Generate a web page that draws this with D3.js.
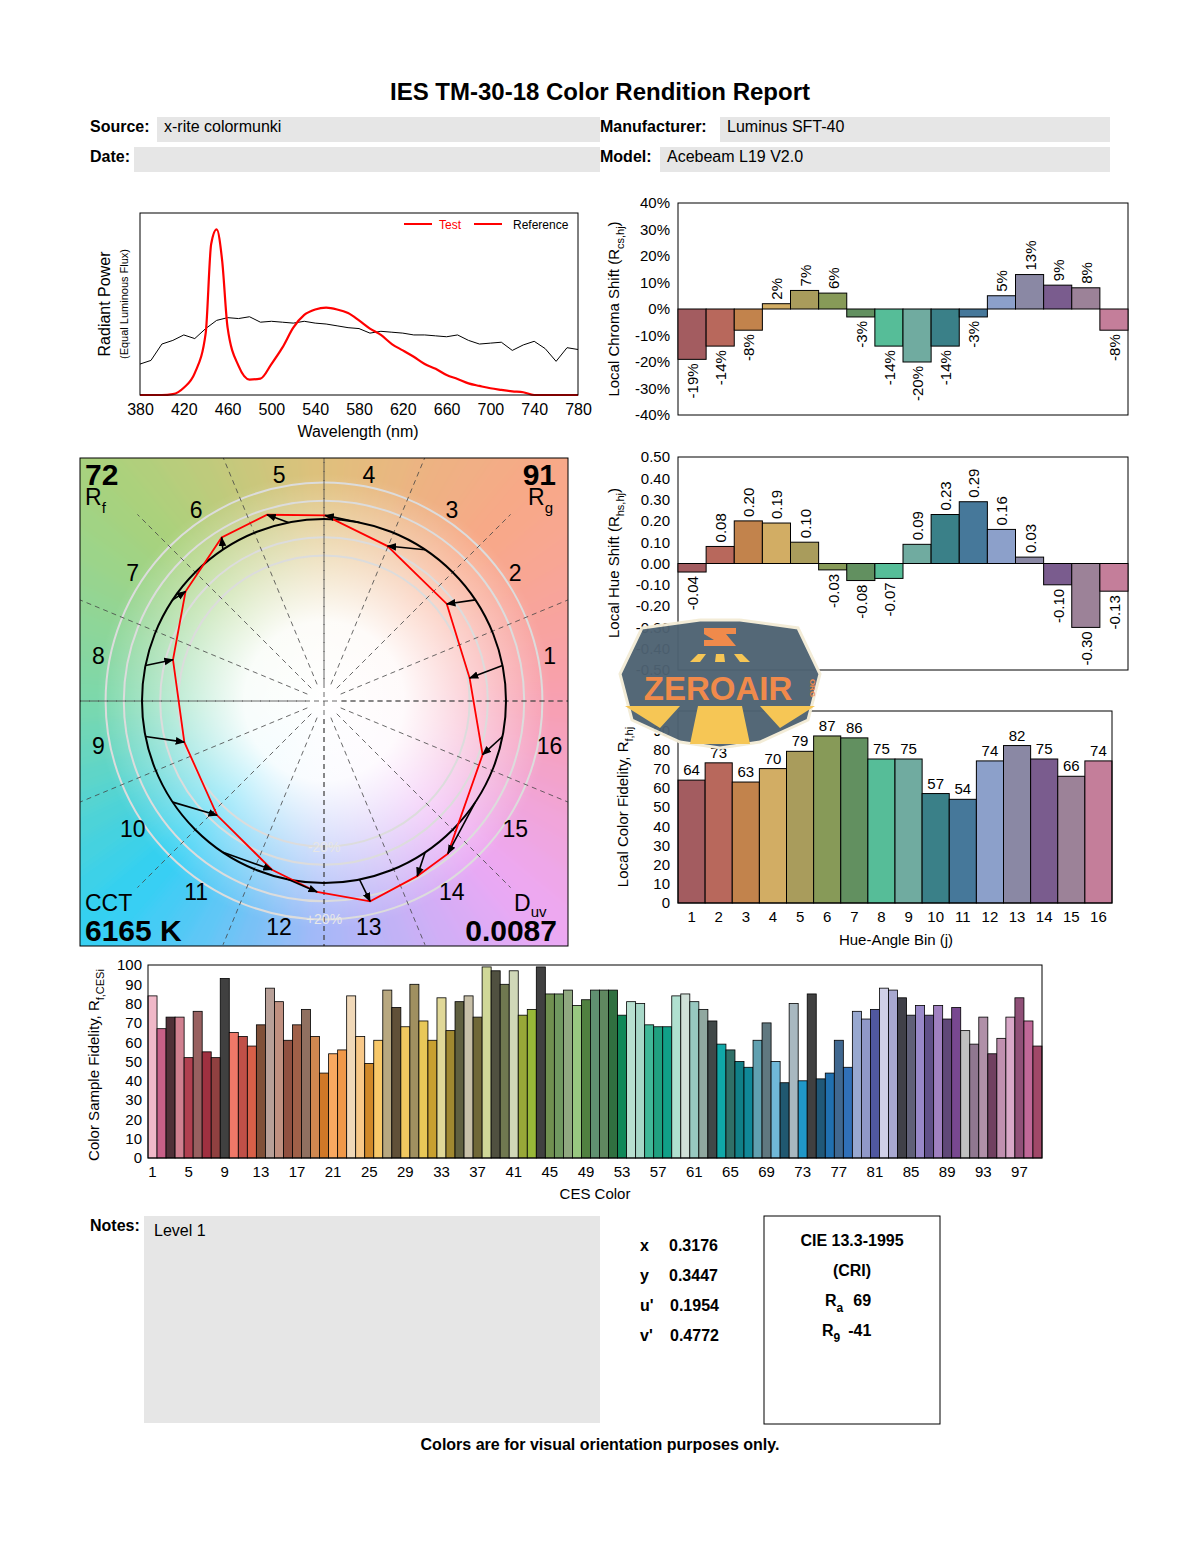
<!DOCTYPE html>
<html>
<head>
<meta charset="utf-8">
<script src="https://cdn.jsdelivr.net/npm/d3@7"></script>
<style>
  body { margin: 0; background: #fff; }
  svg { font-family: "Liberation Sans", Arial, sans-serif; }
</style>
</head>
<body>
<script>
// ---- data ----
var wavelengths = d3.range(380, 781, 10)
var testSpd = [0,0,0,0.005,0.04,0.12,0.34,0.91,0.37,0.16,0.085,0.09,0.17,0.26,0.37,0.44,0.47,0.48,0.47,0.45,0.41,0.365,0.33,0.28,0.245,0.21,0.17,0.144,0.11,0.088,0.064,0.05,0.037,0.028,0.02,0.015,0,0,0,0,0]
var refSpd = [0.17,0.19,0.28,0.30,0.33,0.31,0.365,0.41,0.425,0.42,0.43,0.40,0.405,0.40,0.395,0.405,0.395,0.39,0.38,0.37,0.365,0.34,0.35,0.345,0.34,0.33,0.33,0.325,0.32,0.33,0.30,0.28,0.285,0.29,0.245,0.275,0.295,0.255,0.185,0.26,0.25]
var testPeak = {wl: 450, v: 0.91}

var bins = d3.range(1, 17)
var binColors = ["#a35c60","#b8685c","#c2834c","#d2ad64","#a99c5c","#879a58","#629060","#56bd98","#70aba0","#3a8088","#46789a","#8ca0ca","#8a88a4","#7a5c8e","#9c8298","#c47e9a"]
var chromaShift = [-0.19,-0.14,-0.08,0.02,0.07,0.06,-0.03,-0.14,-0.20,-0.14,-0.03,0.05,0.13,0.09,0.08,-0.08]
var hueShift = [-0.04,0.08,0.20,0.19,0.10,-0.03,-0.08,-0.07,0.09,0.23,0.29,0.16,0.03,-0.10,-0.30,-0.13]
var localFidelity = [64,73,63,70,79,87,86,75,75,57,54,74,82,75,66,74]

var cesValues = [84,67,73,73,52,76,55,52,93,65,63,58,69,88,81,61,69,77,63,44,54,56,84,63,49,61,87,78,68,90,71,61,83,66,81,84,73,99,97,90,97,74,77,99,85,85,87,79,82,87,87,87,74,81,80,69,68,68,84,85,81,77,71,59,56,50,47,61,70,50,39,80,40,85,41,44,61,47,76,72,77,88,87,83,74,79,74,79,72,78,66,59,73,54,62,73,83,71,58]
var cesColors = ["#f0b8c8","#c86088","#503038","#d08090","#b04050","#986060","#a03040","#904040","#404040","#f07868","#c05048","#d86048","#805038","#b8a098","#c09080","#905040","#a06048","#907060","#d08850","#d07828","#f8a860","#f09848","#f0d8b8","#f8c888","#d08828","#f8c868","#b8a880","#605038","#f0c860","#a09060","#e8c858","#c8a030","#e0d898","#a08830","#606040","#c8c0a8","#706838","#d0d898","#505040","#707850","#d0d8b8","#98a838","#98b838","#404040","#709050","#709860","#90a880","#98c880","#508040","#609070","#608860","#307040","#108858","#b8e0d0","#a8d8c8","#40b898","#20a080","#10a088","#b0e0d0","#d0e0d8","#98c8c0","#90a8a0","#404848","#10a8a8","#307068","#108088","#108898","#60a0b0","#607880","#70b8d8","#205870","#a8b8c0","#2098c8","#404040","#205878","#2070b0","#406890","#3070b8","#98a8d0","#9098c8","#5058a0","#d0d0e8","#a8a8d0","#404048","#606078","#9888c8","#605088","#a080c0","#604878","#784890","#c0c0c0","#907890","#b090a8","#704060","#c090b0","#d8a8c8","#905078","#c06898","#a04868"]
var cesTicks = d3.range(1, 100, 4)

var Rf = 72, Rg = 91, CCT = 6165, Duv = 0.0087
var chroma = [["x","0.3176"],["y","0.3447"],["u'","0.1954"],["v'","0.4772"]]
var Ra = 69, R9 = -41
var bgHueAngles = [0,45,90,135,180,225,270,315,360]
var bgHueColors = ["#f8a0b0","#f8a888","#e0c07c","#a8d27c","#7cd8ac","#30d0f4","#a8b8f8","#eca8f4","#f8a0b0"]

// hyphen instead of unicode minus, like the source report
var fmtPct = d => d3.format(".0%")(d).replace("\u2212", "-")
var fmt2 = d => d3.format(".2f")(d).replace("\u2212", "-")

// ---- svg ----
var svg = d3.select("body").append("svg").attr("width", 1200).attr("height", 1550)
var defs = svg.append("defs")

function txt(g, x, y, s, o) {
  o = o || {}
  return g.append("text").attr("x", x).attr("y", y).text(s)
    .attr("font-size", o.size || 15).attr("font-weight", o.bold ? "bold" : null)
    .attr("text-anchor", o.anchor || "start").attr("fill", o.fill || "#000")
}

// title + header
txt(svg, 600, 100, "IES TM-30-18 Color Rendition Report", {size: 24, bold: true, anchor: "middle"})
svg.append("rect").attr("x", 157).attr("y", 117).attr("width", 443).attr("height", 25).attr("fill", "#e6e6e6")
svg.append("rect").attr("x", 134).attr("y", 147).attr("width", 466).attr("height", 25).attr("fill", "#e6e6e6")
svg.append("rect").attr("x", 720).attr("y", 117).attr("width", 390).attr("height", 25).attr("fill", "#e6e6e6")
svg.append("rect").attr("x", 660).attr("y", 147).attr("width", 450).attr("height", 25).attr("fill", "#e6e6e6")
txt(svg, 90, 132, "Source:", {size: 16, bold: true})
txt(svg, 164, 132, "x-rite colormunki", {size: 16})
txt(svg, 90, 162, "Date:", {size: 16, bold: true})
txt(svg, 600, 132, "Manufacturer:", {size: 16, bold: true})
txt(svg, 727, 132, "Luminus SFT-40", {size: 16})
txt(svg, 600, 162, "Model:", {size: 16, bold: true})
txt(svg, 667, 162, "Acebeam L19 V2.0", {size: 16})

// ---- spectrum ----
var sp = {l: 140, r: 578, t: 213, b: 395}
var xs = d3.scaleLinear().domain([380, 780]).range([sp.l, sp.r])
var ys = d3.scaleLinear().domain([0, 1]).range([sp.b, sp.t])
var gs = svg.append("g")
gs.append("g").attr("transform", `translate(0,${sp.b})`)
  .call(d3.axisBottom(xs).tickValues(d3.range(380, 781, 40)).tickSize(0).tickPadding(9))
  .call(g => g.select(".domain").remove())
  .call(g => g.selectAll("text").attr("font-size", 16).attr("font-family", "Liberation Sans"))
var testPts = wavelengths.map((w, i) => [w, testSpd[i]])
testPts.splice(7, 1, [445, 0.83], [testPeak.wl, testPeak.v], [455, 0.74])
gs.append("path").datum(wavelengths.map((w, i) => [w, refSpd[i]]))
  .attr("d", d3.line().x(d => xs(d[0])).y(d => ys(d[1])).curve(d3.curveLinear))
  .attr("fill", "none").attr("stroke", "#000").attr("stroke-width", 1)
gs.append("path").datum(testPts)
  .attr("d", d3.line().x(d => xs(d[0])).y(d => ys(d[1])).curve(d3.curveMonotoneX))
  .attr("fill", "none").attr("stroke", "#f00").attr("stroke-width", 2.2)
gs.append("rect").attr("x", sp.l).attr("y", sp.t).attr("width", sp.r - sp.l).attr("height", sp.b - sp.t)
  .attr("fill", "none").attr("stroke", "#000")
gs.append("line").attr("x1", 404).attr("x2", 432).attr("y1", 224).attr("y2", 224).attr("stroke", "#f00").attr("stroke-width", 2)
txt(gs, 439, 229, "Test", {size: 12, fill: "#f00"})
gs.append("line").attr("x1", 474).attr("x2", 502).attr("y1", 224).attr("y2", 224).attr("stroke", "#f00").attr("stroke-width", 2)
txt(gs, 513, 229, "Reference", {size: 12})
txt(gs, 358, 437, "Wavelength (nm)", {size: 16, anchor: "middle"})
txt(gs, 0, 0, "Radiant Power", {size: 16, anchor: "middle"}).attr("transform", "translate(110,304) rotate(-90)")
txt(gs, 0, 0, "(Equal Luminous Flux)", {size: 11, anchor: "middle"}).attr("transform", "translate(128,304) rotate(-90)")

// ---- color vector graphic ----
var vg = {x: 80, y: 458, s: 488}
var cx = 324, cy = 701, R = 182
var gv = svg.append("g")
defs.append("clipPath").attr("id", "sq").append("rect").attr("x", vg.x).attr("y", vg.y).attr("width", vg.s).attr("height", vg.s)
defs.append("filter").attr("id", "blur").attr("x", "-10%").attr("y", "-10%").attr("width", "120%").attr("height", "120%")
  .append("feGaussianBlur").attr("stdDeviation", 6)
var rg = defs.append("radialGradient").attr("id", "white").attr("gradientUnits", "userSpaceOnUse")
  .attr("cx", cx).attr("cy", cy).attr("r", R * 1.25)
rg.append("stop").attr("offset", "0").attr("stop-color", "#fff").attr("stop-opacity", 1)
rg.append("stop").attr("offset", "0.35").attr("stop-color", "#fff").attr("stop-opacity", 0.95)
rg.append("stop").attr("offset", "1").attr("stop-color", "#fff").attr("stop-opacity", 0)
var hueScale = d3.scaleLinear().domain(bgHueAngles).range(bgHueColors).interpolate(d3.interpolateRgb)
var gbg = gv.append("g").attr("clip-path", "url(#sq)")
var gw = gbg.append("g").attr("filter", "url(#blur)")
var nW = 72
d3.range(nW).forEach(i => {
  var a0 = (i / nW) * 2 * Math.PI, a1 = ((i + 1.2) / nW) * 2 * Math.PI, far = 420
  gw.append("polygon")
    .attr("points", [[cx, cy], [cx + far * Math.cos(a0), cy - far * Math.sin(a0)], [cx + far * Math.cos(a1), cy - far * Math.sin(a1)]].map(p => p.join(",")).join(" "))
    .attr("fill", hueScale((i + 0.5) * 360 / nW))
})
gbg.append("rect").attr("x", vg.x).attr("y", vg.y).attr("width", vg.s).attr("height", vg.s).attr("fill", "url(#white)")
// grey circles
;[0.8, 0.9, 1.1, 1.2].forEach(k => gbg.append("circle").attr("cx", cx).attr("cy", cy).attr("r", R * k)
  .attr("fill", "none").attr("stroke", "#dcdcdc").attr("stroke-width", 2))
// dashed radial lines
d3.range(16).forEach(k => {
  var a = k * Math.PI / 8, r0 = 18, r1 = R * 1.45
  gbg.append("line").attr("x1", cx + r0 * Math.cos(a)).attr("y1", cy - r0 * Math.sin(a))
    .attr("x2", cx + r1 * Math.cos(a)).attr("y2", cy - r1 * Math.sin(a))
    .attr("stroke", "#444").attr("stroke-width", 0.8).attr("stroke-dasharray", "5,4")
})
gbg.append("line").attr("x1", vg.x).attr("x2", vg.x + vg.s).attr("y1", cy).attr("y2", cy).attr("stroke", "#444").attr("stroke-width", 0.8).attr("stroke-dasharray", "5,4")
gbg.append("line").attr("x1", cx).attr("x2", cx).attr("y1", vg.y).attr("y2", vg.y + vg.s).attr("stroke", "#444").attr("stroke-width", 0.8).attr("stroke-dasharray", "5,4")
txt(gbg, cx, cy + R * 1.2 + 5, "+20%", {size: 14, anchor: "middle", fill: "#e8e8e8"})
txt(gbg, cx, cy + R * 0.8 + 5, "-20%", {size: 14, anchor: "middle", fill: "#e6e6e6"})
// reference circle
gbg.append("circle").attr("cx", cx).attr("cy", cy).attr("r", R).attr("fill", "none").attr("stroke", "#000").attr("stroke-width", 2)
// test polygon
var binAng = j => (j - 0.5) * Math.PI / 8
var testXY = bins.map((j, i) => {
  var a = binAng(j) + hueShift[i], r = R * (1 + chromaShift[i])
  return [cx + r * Math.cos(a), cy - r * Math.sin(a)]
})
gbg.append("polygon").attr("points", testXY.map(p => p.join(",")).join(" "))
  .attr("fill", "none").attr("stroke", "#f00").attr("stroke-width", 1.8)
defs.append("marker").attr("id", "arr").attr("viewBox", "0 0 10 10").attr("refX", 9).attr("refY", 5)
  .attr("markerWidth", 6).attr("markerHeight", 6).attr("orient", "auto")
  .append("path").attr("d", "M0,1L10,5L0,9z").attr("fill", "#000")
bins.forEach((j, i) => {
  var a = binAng(j)
  gbg.append("line").attr("x1", cx + R * Math.cos(a)).attr("y1", cy - R * Math.sin(a))
    .attr("x2", testXY[i][0]).attr("y2", testXY[i][1])
    .attr("stroke", "#000").attr("stroke-width", 1.6).attr("marker-end", "url(#arr)")
})
// bin labels
bins.forEach(j => {
  var a = binAng(j), r = 230
  txt(gv, cx + r * Math.cos(a), cy - r * Math.sin(a) + 8, j, {size: 23, anchor: "middle"})
})
gv.append("rect").attr("x", vg.x).attr("y", vg.y).attr("width", vg.s).attr("height", vg.s).attr("fill", "none").attr("stroke", "#000")
txt(gv, 85, 485, Rf, {size: 30, bold: true})
txt(gv, 85, 505, "R", {size: 23}).append("tspan").attr("dy", 8).attr("font-size", 15).text("f")
txt(gv, 556, 485, Rg, {size: 30, bold: true, anchor: "end"})
txt(gv, 553, 505, "R", {size: 23, anchor: "end"}).append("tspan").attr("dy", 8).attr("font-size", 15).text("g")
txt(gv, 85, 911, "CCT", {size: 23})
txt(gv, 85, 941, CCT + " K", {size: 30, bold: true})
txt(gv, 514, 911, "D", {size: 23}).append("tspan").attr("dy", 6).attr("font-size", 15).text("uv")
txt(gv, 557, 941, Duv.toFixed(4), {size: 30, bold: true, anchor: "end"})

// ---- bar charts helpers ----
function yLabel(g, x, y, main, sub, tail) {
  var t = txt(g, 0, 0, main, {size: 15, anchor: "middle"}).attr("transform", `translate(${x},${y}) rotate(-90)`)
  t.append("tspan").attr("dy", 5).attr("font-size", 11).text(sub)
  if (tail) t.append("tspan").attr("dy", -5).text(tail)
}
function styleAxis(g) {
  g.select(".domain").remove()
  g.selectAll("text").attr("font-size", 15).attr("font-family", "Liberation Sans")
}
var binX = d3.scaleBand().domain(bins).range([678, 1128]).paddingInner(0)

// chroma shift
var cs = {t: 203, b: 415}
var yc = d3.scaleLinear().domain([-0.4, 0.4]).range([cs.b, cs.t])
var gc = svg.append("g")
gc.append("g").attr("transform", "translate(678,0)")
  .call(d3.axisLeft(yc).tickValues(d3.range(-4, 5).map(d => d / 10)).tickSize(0).tickPadding(8).tickFormat(fmtPct))
  .call(styleAxis)
gc.append("rect").attr("x", 678).attr("y", cs.t).attr("width", 450).attr("height", cs.b - cs.t).attr("fill", "none").attr("stroke", "#000")
gc.selectAll("rect.bar").data(chromaShift).join("rect").attr("class", "bar")
  .attr("x", (d, i) => binX(i + 1)).attr("width", binX.bandwidth())
  .attr("y", d => yc(Math.max(0, d))).attr("height", d => Math.abs(yc(d) - yc(0)))
  .attr("fill", (d, i) => binColors[i]).attr("stroke", "#000").attr("stroke-width", 1)
gc.selectAll("text.lab").data(chromaShift).join("text").attr("class", "lab")
  .attr("transform", (d, i) => `translate(${binX(i + 1) + binX.bandwidth() / 2 + 6},${yc(d) + (d >= 0 ? -4 : 4)}) rotate(-90)`)
  .attr("text-anchor", d => d >= 0 ? "start" : "end").attr("font-size", 15)
  .attr("stroke", "#fff").attr("stroke-width", 4).attr("paint-order", "stroke")
  .text(d => Math.round(d * 100) + "%")
yLabel(gc, 619, 309, "Local Chroma Shift (R", "cs,hj", ")")

// hue shift
var hs = {t: 457, b: 670}
var yh = d3.scaleLinear().domain([-0.5, 0.5]).range([hs.b, hs.t])
var gh = svg.append("g")
gh.append("g").attr("transform", "translate(678,0)")
  .call(d3.axisLeft(yh).tickValues(d3.range(-5, 6).map(d => d / 10)).tickSize(0).tickPadding(8).tickFormat(fmt2))
  .call(styleAxis)
gh.append("rect").attr("x", 678).attr("y", hs.t).attr("width", 450).attr("height", hs.b - hs.t).attr("fill", "none").attr("stroke", "#000")
gh.selectAll("rect.bar").data(hueShift).join("rect").attr("class", "bar")
  .attr("x", (d, i) => binX(i + 1)).attr("width", binX.bandwidth())
  .attr("y", d => yh(Math.max(0, d))).attr("height", d => Math.abs(yh(d) - yh(0)))
  .attr("fill", (d, i) => binColors[i]).attr("stroke", "#000").attr("stroke-width", 1)
gh.selectAll("text.lab").data(hueShift).join("text").attr("class", "lab")
  .attr("transform", (d, i) => `translate(${binX(i + 1) + binX.bandwidth() / 2 + 6},${yh(d) + (d >= 0 ? -4 : 4)}) rotate(-90)`)
  .attr("text-anchor", d => d >= 0 ? "start" : "end").attr("font-size", 15)
  .attr("stroke", "#fff").attr("stroke-width", 4).attr("paint-order", "stroke")
  .text(fmt2)
yLabel(gh, 619, 563, "Local Hue Shift (R", "hs,hj", ")")

// local fidelity
var lf = {l: 678, r: 1112, t: 711, b: 903}
var fx = d3.scaleBand().domain(bins).range([lf.l, lf.r])
var fy = d3.scaleLinear().domain([0, 100]).range([lf.b, lf.t])
var gf = svg.append("g")
gf.append("g").attr("transform", `translate(${lf.l},0)`)
  .call(d3.axisLeft(fy).ticks(10).tickSize(0).tickPadding(8)).call(styleAxis)
gf.append("g").attr("transform", `translate(0,${lf.b})`)
  .call(d3.axisBottom(fx).tickSize(0).tickPadding(8)).call(styleAxis)
gf.selectAll("rect.bar").data(localFidelity).join("rect").attr("class", "bar")
  .attr("x", (d, i) => fx(i + 1)).attr("width", fx.bandwidth())
  .attr("y", d => fy(d)).attr("height", d => lf.b - fy(d))
  .attr("fill", (d, i) => binColors[i]).attr("stroke", "#000").attr("stroke-width", 1)
gf.selectAll("text.lab").data(localFidelity).join("text").attr("class", "lab")
  .attr("x", (d, i) => fx(i + 1) + fx.bandwidth() / 2).attr("y", d => fy(d) - 5)
  .attr("text-anchor", "middle").attr("font-size", 15)
  .attr("stroke", "#fff").attr("stroke-width", 4).attr("paint-order", "stroke")
  .text(d => d)
gf.append("rect").attr("x", lf.l).attr("y", lf.t).attr("width", lf.r - lf.l).attr("height", lf.b - lf.t).attr("fill", "none").attr("stroke", "#000")
txt(gf, 896, 945, "Hue-Angle Bin (j)", {size: 15, anchor: "middle"})
yLabel(gf, 628, 807, "Local Color Fidelity, R", "f,hj", "")

// CES fidelity
var ce = {l: 148, r: 1042, t: 965, b: 1158}
var cxs = d3.scaleBand().domain(d3.range(1, 100)).range([ce.l, ce.r])
var cys = d3.scaleLinear().domain([0, 100]).range([ce.b, ce.t])
var gce = svg.append("g")
gce.append("g").attr("transform", `translate(${ce.l},0)`)
  .call(d3.axisLeft(cys).ticks(10).tickSize(0).tickPadding(6)).call(styleAxis)
gce.append("g").attr("transform", `translate(0,${ce.b})`)
  .call(d3.axisBottom(cxs).tickValues(cesTicks).tickSize(0).tickPadding(8)).call(styleAxis)
gce.selectAll("rect.bar").data(cesValues).join("rect").attr("class", "bar")
  .attr("x", (d, i) => cxs(i + 1)).attr("width", cxs.bandwidth())
  .attr("y", d => cys(d)).attr("height", d => ce.b - cys(d))
  .attr("fill", (d, i) => cesColors[i]).attr("stroke", "#000").attr("stroke-width", 0.8)
gce.append("rect").attr("x", ce.l).attr("y", ce.t).attr("width", ce.r - ce.l).attr("height", ce.b - ce.t).attr("fill", "none").attr("stroke", "#000")
txt(gce, 595, 1199, "CES Color", {size: 15, anchor: "middle"})
yLabel(gce, 99, 1065, "Color Sample Fidelity, R", "f,CESi", "")

// ---- notes and values ----
svg.append("rect").attr("x", 144).attr("y", 1216).attr("width", 456).attr("height", 207).attr("fill", "#e6e6e6")
txt(svg, 90, 1231, "Notes:", {size: 16, bold: true})
txt(svg, 154, 1236, "Level 1", {size: 16})
chroma.forEach((c, i) => {
  txt(svg, 640, 1251 + i * 30, c[0], {size: 16, bold: true})
  txt(svg, i > 1 ? 670 : 669, 1251 + i * 30, c[1], {size: 16, bold: true})
})
svg.append("rect").attr("x", 764).attr("y", 1216).attr("width", 176).attr("height", 208).attr("fill", "none").attr("stroke", "#000")
txt(svg, 852, 1246, "CIE 13.3-1995", {size: 16, bold: true, anchor: "middle"})
txt(svg, 852, 1276, "(CRI)", {size: 16, bold: true, anchor: "middle"})
var ra = txt(svg, 825, 1306, "R", {size: 16, bold: true})
ra.append("tspan").attr("dy", 6).attr("font-size", 12).text("a")
ra.append("tspan").attr("dy", -6).attr("dx", 10).text(Ra)
var r9 = txt(svg, 822, 1336, "R", {size: 16, bold: true})
r9.append("tspan").attr("dy", 6).attr("font-size", 12).text("9")
r9.append("tspan").attr("dy", -6).attr("dx", 8).text(R9)
txt(svg, 600, 1450, "Colors are for visual orientation purposes only.", {size: 16, bold: true, anchor: "middle"})

// ---- watermark ----
var wm = svg.append("g").attr("transform", "translate(720,684)")
wm.append("path").attr("d", "M-78,-56 L-20,-64 L20,-64 L78,-56 L100,-10 L88,36 L40,58 L0,64 L-40,58 L-88,36 L-100,-10 Z")
  .attr("fill", "#4e6272").attr("stroke", "#f3ecd6").attr("stroke-width", 3).attr("opacity", 0.96)
wm.append("path").attr("d", "M-95,22 L-40,22 L-60,44 Z M95,22 L40,22 L60,44 Z M-22,22 L22,22 L30,60 L-30,60 Z").attr("fill", "#f6c655")
wm.append("path").attr("d", "M-16,-56 L16,-56 L16,-50 L6,-50 L16,-38 L-16,-38 L-16,-44 L-6,-44 L-16,-50 Z").attr("fill", "#f08a4b")
wm.append("path").attr("d", "M-22,-30 L-14,-30 L-20,-22 L-30,-22 Z M-4,-30 L4,-30 L5,-22 L-5,-22 Z M14,-30 L22,-30 L30,-22 L20,-22 Z").attr("fill", "#f6c655")
txt(wm, -2, 16, "ZEROAIR", {size: 33, bold: true, anchor: "middle", fill: "#f08a4b"})
txt(wm, 0, 0, "ORG", {size: 8, bold: true, anchor: "middle", fill: "#f08a4b"}).attr("transform", "translate(90,4) rotate(90)")
</script>
</body>
</html>
